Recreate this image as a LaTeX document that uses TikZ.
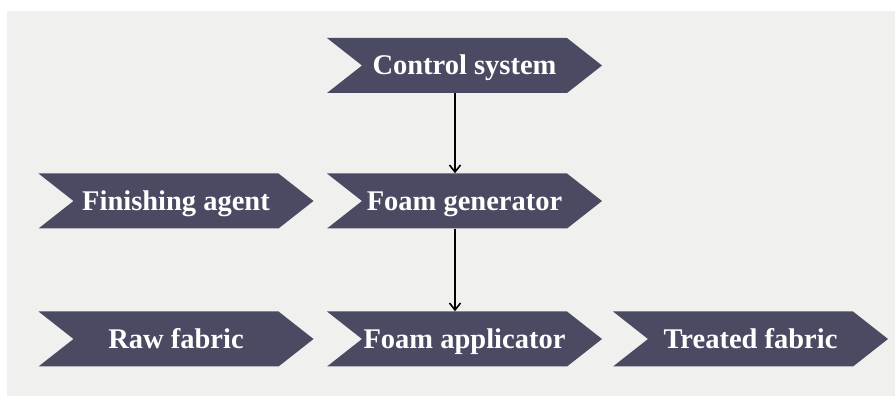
\documentclass[tikz,border=0pt]{standalone}
\usepackage{fontspec}
\setmainfont{Liberation Serif}
\usetikzlibrary{arrows.meta}
\definecolor{chev}{HTML}{4A4A62}
\definecolor{bg}{HTML}{F0F0EE}
\begin{document}
\begin{tikzpicture}[x=1pt,y=-1pt,
  chevbox/.style={rectangle, draw=none, minimum width=275pt, minimum height=55pt, inner sep=0pt,
    text height=18.8pt, text depth=0pt,
    text=white, font=\fontsize{28.5}{30}\selectfont\bfseries,
    path picture={\fill[chev] (path picture bounding box.north west)
      -- ([xshift=-35pt]path picture bounding box.north east)
      -- (path picture bounding box.east)
      -- ([xshift=-35pt]path picture bounding box.south east)
      -- (path picture bounding box.south west)
      -- ([xshift=35pt]path picture bounding box.west) -- cycle;}},
  flow/.style={line width=1.8pt, -{Straight Barb[length=7pt,width=11pt,line width=1.6pt]}}]
\useasboundingbox (0,0) rectangle (895,403);
\fill[bg] (7,11) rectangle (895,396);
\node[chevbox] (cs) at (464.5,65.5) {Control system};
\node[chevbox] (fa) at (176,201) {Finishing agent};
\node[chevbox] (fg) at (464.5,201) {Foam generator};
\node[chevbox] (rf) at (176,339) {Raw fabric};
\node[chevbox] (ap) at (464.5,339) {Foam applicator};
\node[chevbox] (tf) at (750.5,339) {Treated fabric};
\draw[flow] ([xshift=-9.5pt]cs.south) -- ([xshift=-9.5pt]fg.north);
\draw[flow] ([xshift=-9.5pt]fg.south) -- ([xshift=-9.5pt]ap.north);
\end{tikzpicture}
\end{document}
